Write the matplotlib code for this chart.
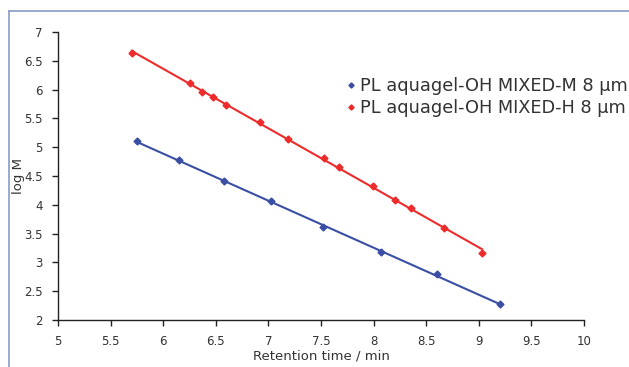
import numpy as np
import matplotlib.pyplot as plt
from matplotlib.lines import Line2D

# retention time (min) vs log M
time_m = [5.75, 6.15, 6.58, 7.02, 7.52, 8.07, 8.60, 9.20]
logm_m = [5.10, 4.77, 4.41, 4.07, 3.61, 3.18, 2.79, 2.28]
time_h = [5.70, 6.25, 6.37, 6.47, 6.60, 6.92, 7.19, 7.53, 7.67, 7.99, 8.20, 8.36, 8.67, 9.03]
logm_h = [6.63, 6.11, 5.96, 5.87, 5.73, 5.44, 5.15, 4.81, 4.66, 4.33, 4.08, 3.94, 3.59, 3.17]
labels = ['PL aquagel-OH MIXED-M 8 µm', 'PL aquagel-OH MIXED-H 8 µm']
colors = ['#3a4fa3', '#ee2b2b']

fig = plt.figure(figsize=(6.29, 3.67), dpi=100)
ax = fig.add_axes([0.0922, 0.1281, 0.8363, 0.7847])

for t, v, c, lab in [(time_m, logm_m, colors[0], labels[0]), (time_h, logm_h, colors[1], labels[1])]:
    t = np.array(t)
    p = np.polyfit(t, v, 1)
    ax.plot(t, np.polyval(p, t), color=c, lw=1.5, zorder=2)
    ax.plot(t, v, 'D', color=c, ms=3.5, label=lab, zorder=3)

ax.set_xlim(5, 10)
ax.set_ylim(2, 7)
ax.set_xticks(np.arange(5, 10.01, 0.5))
ax.set_yticks(np.arange(2, 7.01, 0.5))
ax.set_xticklabels(['5', '5.5', '6', '6.5', '7', '7.5', '8', '8.5', '9', '9.5', '10'])
ax.set_yticklabels(['2', '2.5', '3', '3.5', '4', '4.5', '5', '5.5', '6', '6.5', '7'])
ax.spines['top'].set_visible(False)
ax.spines['right'].set_visible(False)
for s in ['left', 'bottom']:
    ax.spines[s].set_color('#222222')
    ax.spines[s].set_linewidth(1.0)
ax.tick_params(direction='out', length=4, width=1, color='#222222', labelsize=8.5, labelcolor='#333333', pad=7)
ax.set_xlabel('Retention time / min', fontsize=9.5, color='#333333', labelpad=1)
ax.set_ylabel('log M', fontsize=9.5, color='#333333')
ax.yaxis.set_label_coords(-0.062, 0.5)

leg = ax.legend(loc='upper left', bbox_to_anchor=(0.516, 0.9), frameon=False, fontsize=12.8,
                handlelength=0.6, handletextpad=0.2, labelspacing=0.25, markerscale=0.75)
for txt in leg.get_texts():
    txt.set_color('#333333')

# outer frame lines (left and top only)
fig.add_artist(Line2D([9/629, 9/629], [0, 1 - 11/367], color='#8a9cc4', lw=1.2))
fig.add_artist(Line2D([9/629, 1], [1 - 11/367, 1 - 11/367], color='#8a9cc4', lw=1.2))

fig.savefig('out.png', dpi=100)
